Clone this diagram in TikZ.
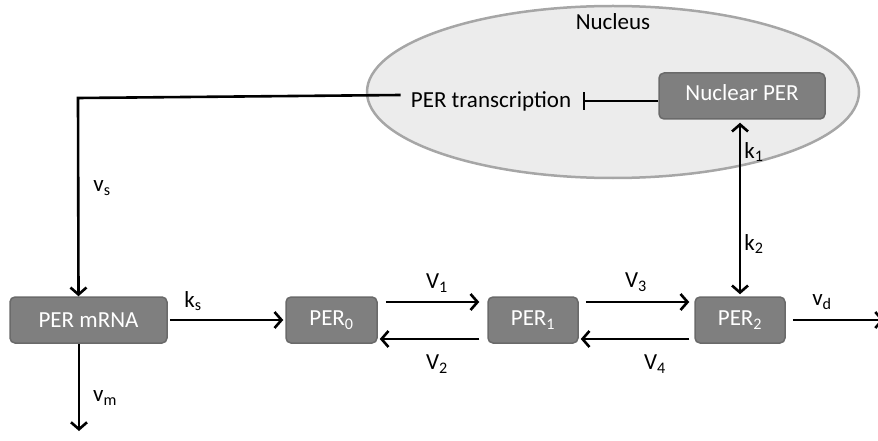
\documentclass[tikz,border=0pt]{standalone}
\usepackage{fontspec}
\setmainfont{Carlito}
\usetikzlibrary{arrows.meta,shapes.geometric}
\definecolor{boxgray}{HTML}{7F7F7F}
\definecolor{boxedge}{HTML}{6A6A6A}
\definecolor{nucfill}{HTML}{ECECEC}
\definecolor{nucedge}{HTML}{A6A6A6}
\tikzset{
  species/.style={rounded corners=5pt, fill=boxgray, draw=boxedge, line width=1.5pt,
    text=white, font=\fontsize{23}{26}\selectfont, minimum height=46pt, inner sep=0pt},
  lbl/.style={font=\fontsize{23}{26}\selectfont, inner sep=0pt},
  tip/.style={Straight Barb[length=7pt,width=16pt,line width=2.6pt]},
  flow/.style={line width=2.6pt, -{Straight Barb[length=7pt,width=16pt,line width=2.6pt]}},
  biflow/.style={line width=2.6pt, {Straight Barb[length=7pt,width=16pt,line width=2.6pt]}-{Straight Barb[length=7pt,width=16pt,line width=2.6pt]}},
}
\begin{document}
\begin{tikzpicture}[x=1pt,y=-1pt]
\useasboundingbox (0,0) rectangle (878,441);
% nucleus
\node[ellipse, draw=nucedge, fill=nucfill, line width=2.5pt, inner sep=0pt,
      minimum width=492pt, minimum height=172pt] (nucleus) at (613,92) {};
\node[lbl] (nuclabel) at (613,22) {Nucleus};
\node[species, minimum width=166pt] (nper) at (742,96) {\raisebox{7pt}{Nuclear PER}};
\node[lbl, inner xsep=10pt] (trans) at (491,101) {PER transcription};
% cytoplasm species
\node[species, minimum width=157pt] (mrna) at (88.5,320) {PER mRNA};
\node[species, minimum width=91pt] (p0) at (331.5,320) {PER\textsubscript{0}};
\node[species, minimum width=90pt] (p1) at (533,320) {PER\textsubscript{1}};
\node[species, minimum width=90pt] (p2) at (740,320) {PER\textsubscript{2}};
\coordinate (mdeg) at (79,431);
\coordinate (pdeg) at (884,320);
% repression and transcription
\draw[line width=2.2pt, -{Bar[width=18pt,line width=2.2pt]}] (trans.east -| nper.west) -- ([xshift=2pt]trans.east);
\draw[flow] ([yshift=6pt]trans.west) -- (78,98) -- ([xshift=-10pt]mrna.north);
% translation and phosphorylation
\draw[flow, shorten <=2pt, shorten >=2pt] (mrna.east) -- (p0.west);
\draw[flow] (mrna.south -| mdeg) -- (mdeg);
\draw[flow, shorten <=8pt, shorten >=8pt] ([yshift=18pt]p0.east) -- ([yshift=18pt]p1.west);
\draw[flow, shorten <=8pt, shorten >=2pt] ([yshift=-19pt]p1.west) -- ([yshift=-19pt]p0.east);
\draw[flow, shorten <=7pt, shorten >=5pt] ([yshift=18pt]p1.east) -- ([yshift=18pt]p2.west);
\draw[flow, shorten <=5pt, shorten >=2pt] ([yshift=-19pt]p2.west) -- ([yshift=-19pt]p1.east);
\draw[flow, shorten <=7pt] (p2.east) -- (pdeg);
\draw[biflow, shorten <=3pt, shorten >=2pt] (nper.south -| p2.north) -- (p2.north);
% rate labels
\node[lbl] at (102,188) {v\textsubscript{s}};
\node[lbl] at (105,398) {v\textsubscript{m}};
\node[lbl] at (193,301) {k\textsubscript{s}};
\node[lbl] at (437,283) {V\textsubscript{1}};
\node[lbl] at (437,364) {V\textsubscript{2}};
\node[lbl] at (636,282) {V\textsubscript{3}};
\node[lbl] at (655,364) {V\textsubscript{4}};
\node[lbl] at (822,302) {v\textsubscript{d}};
\node[lbl] at (754,152) {k\textsubscript{1}};
\node[lbl] at (754,244) {k\textsubscript{2}};
\end{tikzpicture}
\end{document}
